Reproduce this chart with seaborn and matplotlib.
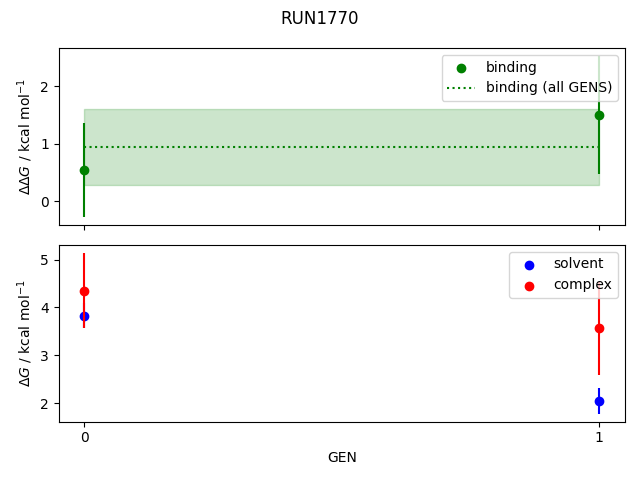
import matplotlib
matplotlib.use("Agg")
import matplotlib.pyplot as plt
import seaborn as sns
import pandas as pd

gens = [0, 1]
binding = [0.54, 1.50]
binding_err = [0.81, 1.02]
binding_all = 0.94
binding_all_err = 0.655
solvent = [3.83, 2.05]
solvent_err = [0.27, 0.27]
complex_ = [4.35, 3.56]
complex_err = [0.79, 0.98]

fig, (ax1, ax2) = plt.subplots(2, 1, sharex=True, figsize=(6.4, 4.8), dpi=100)

df_b = pd.DataFrame({"GEN": gens, "val": binding})
sns.scatterplot(data=df_b, x="GEN", y="val", ax=ax1, color="green", s=36,
                edgecolor="green", linewidth=1, label="binding", zorder=3)
ax1.errorbar(gens, binding, yerr=binding_err, fmt="none", ecolor="green", zorder=3)
ax1.hlines(binding_all, gens[0], gens[-1], colors="green", linestyles=":",
           label="binding (all GENS)")
ax1.fill_between(gens, binding_all - binding_all_err, binding_all + binding_all_err,
                 color="green", alpha=0.2)
ax1.set_ylabel(r"$\Delta\Delta G$ / kcal mol$^{-1}$")
ax1.set_xlabel("")
ax1.legend(loc="upper right")

df_s = pd.DataFrame({"GEN": gens, "val": solvent})
df_c = pd.DataFrame({"GEN": gens, "val": complex_})
sns.scatterplot(data=df_s, x="GEN", y="val", ax=ax2, color="blue", s=36,
                edgecolor="blue", linewidth=1, label="solvent", zorder=3)
ax2.errorbar(gens, solvent, yerr=solvent_err, fmt="none", ecolor="blue", zorder=3)
sns.scatterplot(data=df_c, x="GEN", y="val", ax=ax2, color="red", s=36,
                edgecolor="red", linewidth=1, label="complex", zorder=4)
ax2.errorbar(gens, complex_, yerr=complex_err, fmt="none", ecolor="red", zorder=4)
ax2.set_ylabel(r"$\Delta G$ / kcal mol$^{-1}$")
ax2.set_xlabel("GEN")
ax2.set_xticks(gens)
ax2.legend(loc="upper right")

fig.suptitle("RUN1770")
fig.tight_layout()
fig.savefig("out.png")
